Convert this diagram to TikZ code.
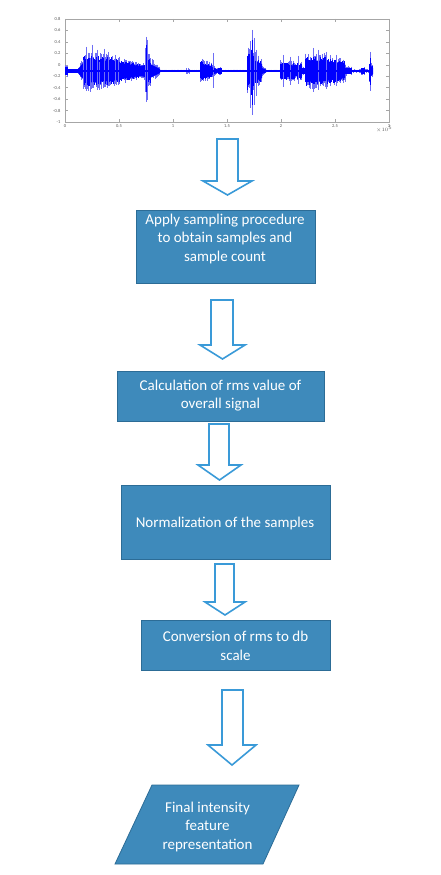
\documentclass[tikz,border=0pt]{standalone}
\usepackage{fontspec}
\setmainfont{Carlito}
\definecolor{boxfill}{RGB}{62,138,187}
\definecolor{boxline}{RGB}{44,108,150}
\definecolor{arrblue}{RGB}{58,154,216}
\definecolor{wave1}{RGB}{0,0,255}
\definecolor{wave2}{RGB}{110,110,245}
\begin{document}
\begin{tikzpicture}[x=1pt,y=-1pt,
  box/.style={draw=boxline, fill=boxfill, line width=0.8pt, inner sep=0pt},
  btext/.style={text=white, font=\fontsize{15}{18.5}\selectfont, align=center, inner sep=0pt},
  arr/.style={draw=arrblue, fill=white, line width=1.6pt, line join=miter},
  wl/.style={line width=0.6pt},
  ax/.style={draw=gray!70, line width=0.4pt},
  tl/.style={font=\fontsize{4.5}{5}\selectfont, text=gray!70!black, inner sep=0.5pt}]
\useasboundingbox (0,0) rectangle (440,875);
\fill[white] (0,0) rectangle (440,875);

% ---------- waveform plot ----------
\pgfmathsetseed{4711}
\draw[ax] (65,19) rectangle (389,122);
\foreach \v [count=\i from 0] in {0.8,0.6,0.4,0.2,0,-0.2,-0.4,-0.6,-0.8,-1} {
  \pgfmathsetmacro{\yy}{19+\i*103/9}
  \draw[ax] (65,\yy) -- (68,\yy) (389,\yy) -- (386,\yy);
  \node[tl, anchor=east] (yl\i) at (61,\yy) {\v};
}
\foreach \v [count=\i from 0] in {0,0.5,1,1.5,2,2.5,3} {
  \pgfmathsetmacro{\xx}{65+\i*54}
  \draw[ax] (\xx,122) -- (\xx,119) (\xx,19) -- (\xx,22);
  \node[tl, anchor=north] (xl\i) at (\xx,124) {\v};
}
\node[tl, anchor=north east] (xexp) at (393,126) {$\times10^{5}$};

% outer (lighter) random strokes
\foreach \xa/\xb/\aa/\ab in {65/68/6/6, 68/78/2/2, 78/83/2/14, 83/95/22/19, 95/110/19/17,
  110/120/17/14, 120/140/13/8, 140/145/8/10, 145/150/26/16, 150/160/14/4, 160/186/1.5/1.5,
  186/190/3/3, 190/200/1.5/1.5, 200/212/13/9, 212/218/7/2, 218/222/4/4, 222/247/1.5/1.5,
  247/262/26/12, 262/266/6/2, 266/280/1.5/1.5, 280/286/11/8, 286/302/11/10, 302/305/4/4,
  305/325/19/18, 325/345/17/12, 345/352/5/5, 352/361/2/2, 361/365/4/4, 365/369/2/2,
  369/373/13/6} {
  \pgfmathsetmacro{\xs}{\xa+0.6}
  \foreach \x in {\xa,\xs,...,\xb} {
    \pgfmathsetmacro{\amp}{\aa+(\ab-\aa)*(\x-\xa)/(\xb-\xa)}
    \pgfmathsetmacro{\ta}{71-\amp*(0.4+0.6*rnd)}
    \pgfmathsetmacro{\ba}{71+\amp*(0.4+0.6*rnd)}
    \draw[wl, wave2] (\x,\ta) -- (\x,\ba);
  }
}
% solid core
\foreach \xa/\xb/\aa/\ab in {65/68/4/4, 68/78/1.5/1.5, 78/83/2/8, 83/95/12/11, 95/110/11/10,
  110/120/10/9, 120/140/8/5, 140/145/5/6, 145/150/14/8, 150/160/7/2, 200/212/7/5,
  212/218/4/1.5, 218/222/2.5/2.5, 247/262/14/7, 262/266/3/1.5, 280/286/6/5, 286/302/6/5,
  302/305/2.5/2.5, 305/325/11/10, 325/345/10/7, 345/352/3/3, 361/365/2.5/2.5, 369/373/7/3} {
  \fill[wave1] (\xa,{71-\aa}) -- (\xb,{71-\ab}) -- (\xb,{71+\ab}) -- (\xa,{71+\aa}) -- cycle;
}
% inner random strokes
\foreach \xa/\xb/\aa/\ab in {83/95/16/15, 95/110/15/14, 110/120/14/12, 120/140/11/7,
  145/150/20/12, 200/212/10/7, 247/262/20/10, 280/302/9/8, 305/325/15/14, 325/345/14/10, 369/373/10/4} {
  \pgfmathsetmacro{\xs}{\xa+0.8}
  \foreach \x in {\xa,\xs,...,\xb} {
    \pgfmathsetmacro{\amp}{\aa+(\ab-\aa)*(\x-\xa)/(\xb-\xa)}
    \pgfmathsetmacro{\ta}{71-\amp*(0.6+0.4*rnd)}
    \pgfmathsetmacro{\ba}{71+\amp*(0.6+0.4*rnd)}
    \draw[wl, wave1] (\x,\ta) -- (\x,\ba);
  }
}
% spikes
\foreach \x/\t/\b in {86/47/86, 92/45/88, 97/50/90, 104/49/87, 108/52/86, 115/55/84,
  83/60/89, 90/58/92, 99/62/90, 118/58/84, 146/37/102, 147.5/40/100, 145/48/92,
  213/53/88, 252/30/115, 250/41/108, 254/38/105, 256/50/96, 283/55/87, 290/57/85,
  298/56/84, 313/48/92, 318/50/90, 326/52/89, 336/55/86, 370/52/91} {
  \draw[wl, wave2] (\x,\t) -- (\x,\b);
}
\foreach \x/\t/\b in {146.5/45/92, 252.5/40/105, 251/50/95, 370.3/58/85, 313.5/57/84} {
  \draw[wl, wave1] (\x,\t) -- (\x,\b);
}
\draw[wave1, line width=1.8pt] (65,71) -- (373,71);

% ---------- flow boxes ----------
\node[box, minimum width=179pt, minimum height=73pt] (b1) at (225.5,246.5) {};
\node[btext] (t1) at (225,238.5) {Apply sampling procedure\\to obtain samples and\\sample count};

\node[box, minimum width=207pt, minimum height=50pt] (b2) at (220.5,396) {};
\node[btext] (t2) at (220.5,395.5) {Calculation of rms value of\\overall signal};

\node[box, minimum width=209pt, minimum height=74pt] (b3) at (225.5,522) {};
\node[btext] (t3) at (225,523) {Normalization of the samples};

\node[box, minimum width=189pt, minimum height=50pt] (b4) at (235.5,645) {};
\node[btext] (t4) at (235.5,646) {Conversion of rms to db\\scale};

\coordinate (p1) at (152,785);
\coordinate (p2) at (299,785);
\coordinate (p3) at (263,864);
\coordinate (p4) at (115,864);
\draw[draw=boxline, fill=boxfill, line width=0.8pt] (p1) -- (p2) -- (p3) -- (p4) -- cycle;
\node[btext] (t5) at (207.5,826.5) {Final intensity\\feature\\representation};

% ---------- block arrows ----------
\newcommand\blockarr[7]{%
  \draw[arr] (#1,#3) -- (#2,#3) -- (#2,#4) -- (#6,#4) -- ({(#5+#6)/2},#7) -- (#5,#4) -- (#1,#4) -- cycle;}
\blockarr{217}{238}{139}{181}{203}{252}{195}
\blockarr{211}{233}{300}{345}{200}{245}{359}
\blockarr{209}{229}{424}{465}{198}{241}{480}
\blockarr{215}{234}{564}{602}{205}{245}{615}
\blockarr{222}{243}{690}{745}{208}{256}{765}
\end{tikzpicture}
\end{document}
